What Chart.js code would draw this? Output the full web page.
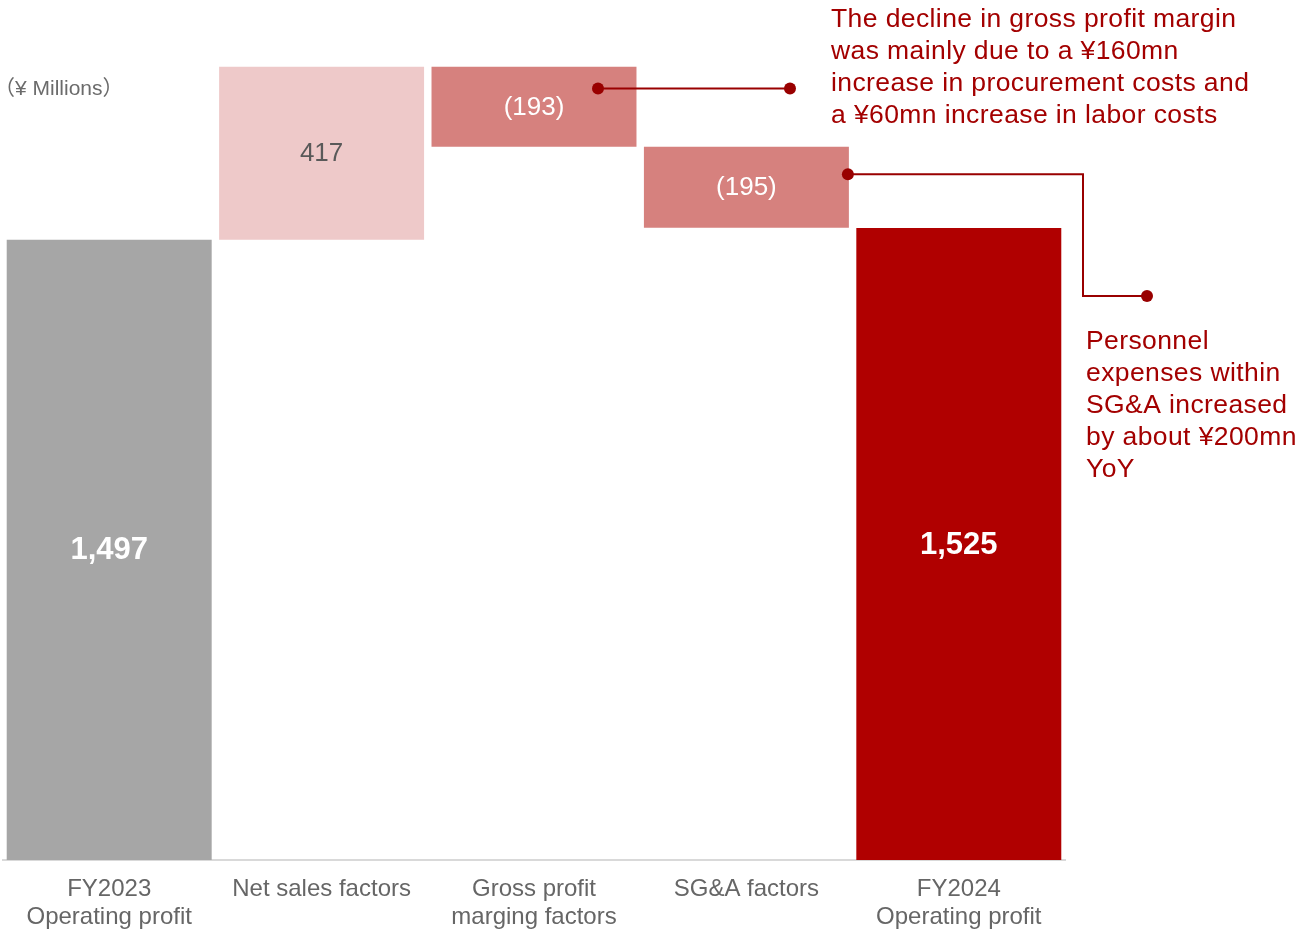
<!DOCTYPE html>
<html lang="en">
<head>
<meta charset="UTF-8">
<title>Operating profit bridge</title>
<script src="https://cdn.jsdelivr.net/npm/chart.js"></script>
<style>
  body { margin: 0; background: #fff; }
  #wrap { width: 1298px; height: 932px; }
</style>
</head>
<body>
<div id="wrap"><canvas id="bridge" width="1298" height="932"></canvas></div>
<script>
  const categories = [
    ['FY2023', 'Operating profit'],
    'Net sales factors',
    ['Gross profit', 'marging factors'],
    'SG&A factors',
    ['FY2024', 'Operating profit']
  ];
  // 'total' bars stand on zero, 'delta' bars float from the running total
  const stepKinds = ['total', 'delta', 'delta', 'delta', 'total'];
  const stepValues = [1497, 417, -193, -195, 1525];
  const valueLabels = ['1,497', '417', '(193)', '(195)', '1,525'];
  const barColors = ['#a6a6a6', '#eec9c9', '#d6817e', '#d6817e', '#b00000'];

  const grossNote = [
    'The decline in gross profit margin',
    'was mainly due to a ¥160mn',
    'increase in procurement costs and',
    'a ¥60mn increase in labor costs'
  ];
  const sgaNote = [
    'Personnel',
    'expenses within',
    'SG&A increased',
    'by about ¥200mn',
    'YoY'
  ];
  const unitLabel = '（¥ Millions）';

  const FONT = '"Liberation Sans", Arial, sans-serif';
  const NOTE_RED = '#a30000';
  const LINE_RED = '#990000';

  // turn steps into [start, end] ranges for floating bars
  let running = 0;
  const ranges = stepValues.map((v, i) => {
    if (stepKinds[i] === 'total') {
      running = v;
      return [0, v];
    }
    const start = running;
    running += v;
    return [Math.min(start, running), Math.max(start, running)];
  });

  function barBox(bar) {
    const top = Math.min(bar.y, bar.base);
    const bottom = Math.max(bar.y, bar.base);
    return { left: bar.x - bar.width / 2, right: bar.x + bar.width / 2, top, bottom, cx: bar.x, cy: (top + bottom) / 2 };
  }

  const valueLabelPlugin = {
    id: 'valueLabels',
    afterDatasetsDraw(chart) {
      const ctx = chart.ctx;
      const meta = chart.getDatasetMeta(0);
      ctx.save();
      ctx.textAlign = 'center';
      ctx.textBaseline = 'middle';
      meta.data.forEach((bar, i) => {
        const b = barBox(bar);
        if (stepKinds[i] === 'total') {
          ctx.font = 'bold 31px ' + FONT;
          ctx.fillStyle = '#ffffff';
        } else if (stepValues[i] > 0) {
          ctx.font = '26px ' + FONT;
          ctx.fillStyle = '#595959';
        } else {
          ctx.font = '26px ' + FONT;
          ctx.fillStyle = '#ffffff';
        }
        ctx.fillText(valueLabels[i], b.cx, b.cy + 1);
      });
      ctx.restore();
    }
  };

  function dot(ctx, x, y) {
    ctx.beginPath();
    ctx.arc(x, y, 6, 0, Math.PI * 2);
    ctx.fill();
  }

  const notesPlugin = {
    id: 'notes',
    afterDraw(chart) {
      const ctx = chart.ctx;
      const meta = chart.getDatasetMeta(0);
      ctx.save();

      // unit caption
      ctx.font = '21px ' + FONT + ', "Noto Sans CJK JP"';
      ctx.fillStyle = '#6b6b6b';
      ctx.textBaseline = 'middle';
      ctx.textAlign = 'left';
      ctx.fillText(unitLabel, -6, 89);

      ctx.strokeStyle = LINE_RED;
      ctx.fillStyle = LINE_RED;
      ctx.lineWidth = 2;

      // gross profit callout
      const g = barBox(meta.data[2]);
      const gy = g.top + (g.bottom - g.top) * 0.27;
      const gx = g.cx + 64;
      ctx.beginPath();
      ctx.moveTo(gx, gy);
      ctx.lineTo(790, gy);
      ctx.stroke();
      dot(ctx, gx, gy);
      dot(ctx, 790, gy);

      // SG&A callout
      const s = barBox(meta.data[3]);
      const sy = s.top + (s.bottom - s.top) * 0.34;
      ctx.beginPath();
      ctx.moveTo(s.right, sy);
      ctx.lineTo(1083, sy);
      ctx.lineTo(1083, 296);
      ctx.lineTo(1147, 296);
      ctx.stroke();
      dot(ctx, s.right - 1, sy);
      dot(ctx, 1147, 296);

      ctx.font = '26.5px ' + FONT;
      ctx.letterSpacing = '0.4px';
      ctx.fillStyle = NOTE_RED;
      grossNote.forEach((line, i) => ctx.fillText(line, 831, 20 + i * 32));
      sgaNote.forEach((line, i) => ctx.fillText(line, 1086, 342 + i * 32));

      ctx.restore();
    }
  };

  new Chart(document.getElementById('bridge'), {
    type: 'bar',
    data: {
      labels: categories,
      datasets: [{
        data: ranges,
        backgroundColor: barColors,
        borderWidth: 0,
        barPercentage: 0.965,
        categoryPercentage: 1
      }]
    },
    options: {
      responsive: false,
      animation: false,
      layout: { padding: { top: 54, left: 3, right: 233, bottom: -14 } },
      plugins: {
        legend: { display: false },
        tooltip: { enabled: false }
      },
      scales: {
        x: {
          grid: { display: false, drawTicks: false },
          border: { color: '#d9d9d9', width: 2 },
          ticks: {
            color: '#666666',
            padding: 15,
            maxRotation: 0,
            autoSkip: false,
            font: { family: FONT, size: 24, lineHeight: 1.1667 }
          }
        },
        y: {
          display: false,
          min: 0,
          max: 1945
        }
      }
    },
    plugins: [valueLabelPlugin, notesPlugin]
  });
</script>
</body>
</html>
